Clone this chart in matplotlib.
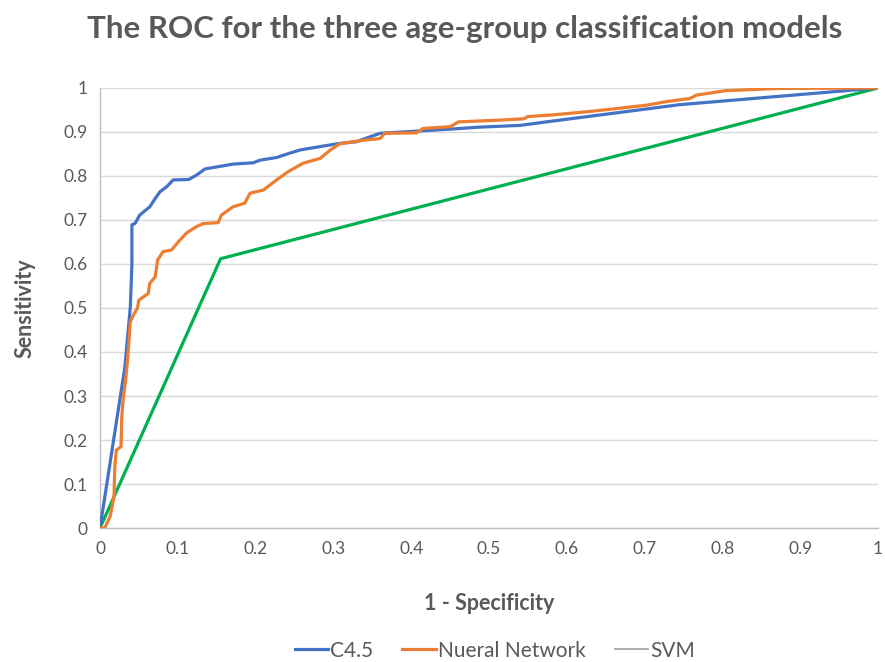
import numpy as np
import matplotlib.pyplot as plt
from matplotlib.lines import Line2D

# ROC points (1 - specificity, sensitivity) for each model
c45_fpr = [0.0, 0.032, 0.039, 0.041, 0.041, 0.045, 0.051, 0.064, 0.071, 0.077, 0.086,
           0.094, 0.114, 0.124, 0.135, 0.158, 0.171, 0.197, 0.206, 0.227, 0.244,
           0.257, 0.270, 0.287, 0.308, 0.330, 0.347, 0.360, 0.446, 0.488, 0.540,
           0.574, 0.745, 1.0]
c45_tpr = [0.0, 0.366, 0.503, 0.600, 0.689, 0.692, 0.711, 0.730, 0.749, 0.764, 0.776,
           0.791, 0.792, 0.802, 0.816, 0.823, 0.827, 0.830, 0.836, 0.842, 0.852,
           0.859, 0.863, 0.868, 0.874, 0.878, 0.889, 0.897, 0.906, 0.911, 0.915,
           0.923, 0.962, 1.0]

nn_fpr = [0.0, 0.006, 0.013, 0.018, 0.019, 0.021, 0.027, 0.028, 0.030, 0.033, 0.035,
          0.037, 0.039, 0.043, 0.048, 0.050, 0.062, 0.064, 0.071, 0.074, 0.081,
          0.092, 0.101, 0.111, 0.124, 0.133, 0.152, 0.156, 0.171, 0.186, 0.193,
          0.210, 0.227, 0.242, 0.261, 0.283, 0.296, 0.308, 0.326, 0.343, 0.360,
          0.366, 0.407, 0.415, 0.450, 0.461, 0.514, 0.545, 0.550, 0.583, 0.626,
          0.668, 0.703, 0.728, 0.758, 0.767, 0.805, 0.874, 1.0]
nn_tpr = [0.0, 0.0, 0.026, 0.071, 0.139, 0.177, 0.185, 0.253, 0.298, 0.336, 0.374,
          0.420, 0.469, 0.484, 0.499, 0.518, 0.533, 0.556, 0.571, 0.609, 0.628,
          0.632, 0.651, 0.670, 0.685, 0.692, 0.694, 0.711, 0.730, 0.738, 0.761,
          0.768, 0.791, 0.810, 0.829, 0.840, 0.859, 0.873, 0.878, 0.882, 0.885,
          0.897, 0.898, 0.908, 0.912, 0.923, 0.927, 0.930, 0.935, 0.939, 0.946,
          0.954, 0.961, 0.969, 0.976, 0.984, 0.994, 0.999, 1.0]

svm_fpr = [0.0, 0.155, 1.0]
svm_tpr = [0.0, 0.612, 1.0]

gray = '#595959'
plt.rcParams['font.family'] = ['Lato', 'DejaVu Sans']

fig = plt.figure(figsize=(8.85, 6.62), dpi=100)
ax = fig.add_axes([0.113, 0.2024, 0.879, 0.6647])

ax.plot(c45_fpr, c45_tpr, color='#4472C4', lw=2.3, label='C4.5', zorder=3)
ax.plot(nn_fpr, nn_tpr, color='#ED7D31', lw=2.3, label='Nueral Network', zorder=4)
ax.plot(svm_fpr, svm_tpr, color='#00B050', lw=2.3, zorder=2)

ax.set_xlim(0, 1)
ax.set_ylim(0, 1)
ticks = np.round(np.arange(0, 1.01, 0.1), 1)
labels = ['0'] + ['%g' % t for t in ticks[1:-1]] + ['1']
ax.set_xticks(ticks)
ax.set_xticklabels(labels)
ax.set_yticks(ticks)
ax.set_yticklabels(labels)
ax.tick_params(length=0, labelsize=12.5, labelcolor=gray, pad=9)
ax.yaxis.grid(True, color='#d9d9d9', lw=1)
ax.set_axisbelow(True)
for s in ['top', 'right']:
    ax.spines[s].set_visible(False)
for s in ['left', 'bottom']:
    ax.spines[s].set_color('#bfbfbf')
    ax.spines[s].set_linewidth(1)

ax.set_xlabel('1 - Specificity', fontsize=15.5, fontweight='bold', color=gray, labelpad=26)
ax.set_ylabel('Sensitivity', fontsize=15.5, fontweight='bold', color=gray, labelpad=20)
fig.suptitle('The ROC for the three age-group classification models', x=0.525, y=0.978,
             fontsize=22.5, fontweight='bold', color=gray)

handles = ax.get_legend_handles_labels()[0]
handles.append(Line2D([], [], color='#A5A5A5', lw=1.3))
leg = fig.legend(handles, ['C4.5', 'Nueral Network', 'SVM'], loc='center',
                 bbox_to_anchor=(0.559, 0.017), ncol=3, frameon=False, fontsize=15,
                 handlelength=1.6, handletextpad=0.1, columnspacing=1.4)
for t in leg.get_texts():
    t.set_color(gray)

fig.savefig('out.png', dpi=100)
